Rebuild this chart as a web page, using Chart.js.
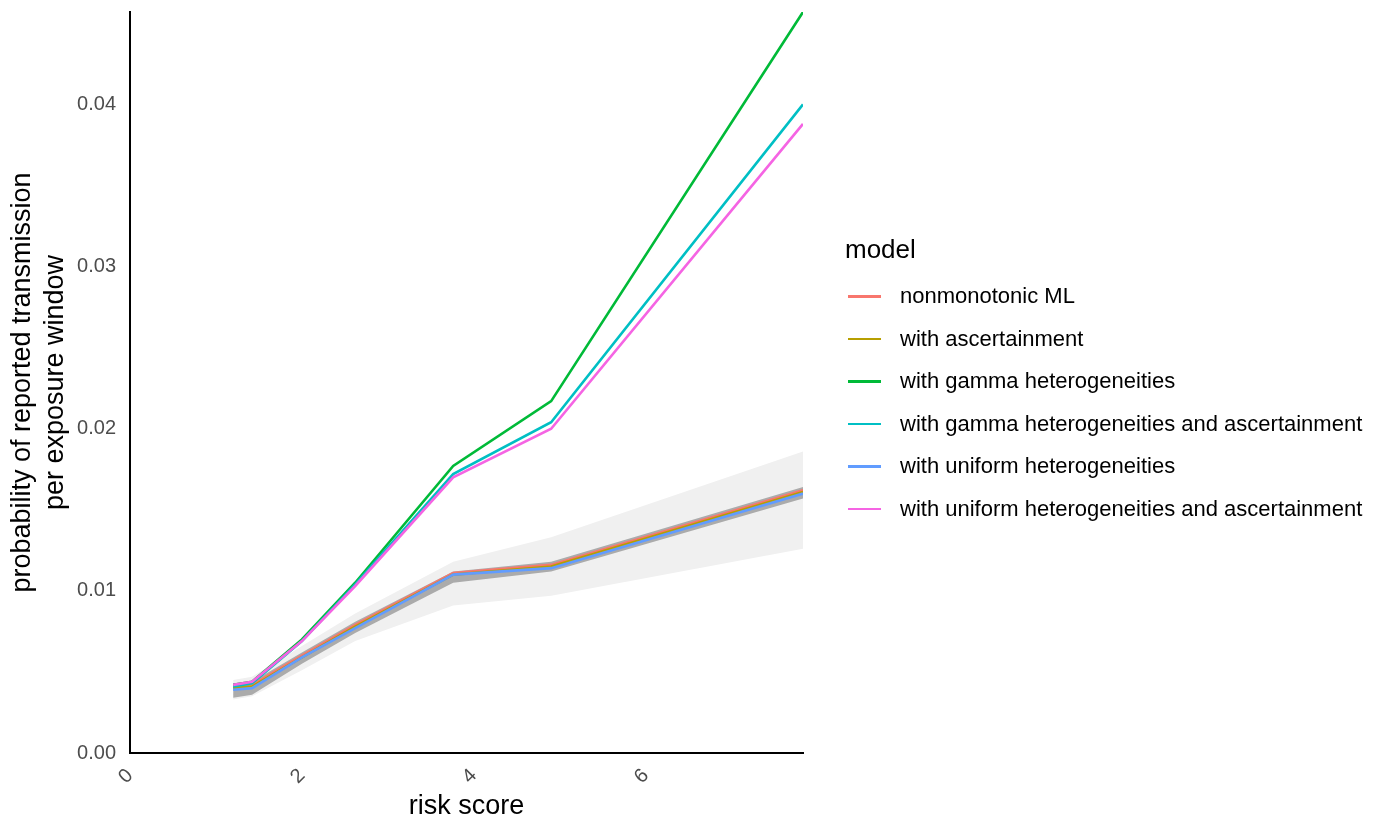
<!DOCTYPE html>
<html>
<head>
<meta charset="utf-8">
<script src="https://cdn.jsdelivr.net/npm/chart.js@4/dist/chart.umd.min.js"></script>
<style>
    html, body { margin: 0; padding: 0; background: #fff; }
    #wrap { position: relative; width: 1385px; height: 820px; font-family: "Liberation Sans", Arial, sans-serif; }
    #chart { position: absolute; left: 0; top: 0; }
    #legend { position: absolute; left: 845px; top: 234px; }
    #legend .title { font-size: 26px; color: #000; margin-bottom: 10px; }
    #legend .item { display: flex; align-items: center; height: 42.5px; font-size: 22px; color: #000; white-space: nowrap; }
    #legend .swatch { width: 33px; height: 2.5px; margin-left: 3px; margin-right: 19px; }
</style>
</head>
<body>
<div id="wrap">
    <canvas id="chart" width="1385" height="820"></canvas>
    <div id="legend"></div>
</div>
<script>
// Valores de risco (eixo x)
const riskScore = [1.2, 1.42, 2.0, 2.62, 3.76, 4.9, 7.83];

// Séries por modelo
const nonmonotonicML = [0.0041, 0.0042, 0.0060, 0.0079, 0.0111, 0.0116, 0.0162];
const withAscertainment = [0.0040, 0.0041, 0.0059, 0.0078, 0.0110, 0.0115, 0.0161];
const gammaHet = [0.0042, 0.0044, 0.0070, 0.0105, 0.0177, 0.0217, 0.0457];
const gammaHetAsc = [0.0041, 0.0043, 0.0069, 0.0104, 0.0172, 0.0204, 0.0400];
const uniformHet = [0.0039, 0.0040, 0.0059, 0.0077, 0.0110, 0.0114, 0.0160];
const uniformHetAsc = [0.0042, 0.0044, 0.0069, 0.0103, 0.0170, 0.0200, 0.0388];

// Faixas de incerteza
const wideLow = [0.0033, 0.0035, 0.0051, 0.0069, 0.0091, 0.0097, 0.0126];
const wideHigh = [0.0045, 0.0047, 0.0066, 0.0086, 0.0118, 0.0133, 0.0186];
const narrowLow = [0.0034, 0.0036, 0.0055, 0.0074, 0.0105, 0.0112, 0.0157];
const narrowHigh = [0.0043, 0.0044, 0.0062, 0.0081, 0.0112, 0.0118, 0.0164];

const modelNames = [
    'nonmonotonic ML',
    'with ascertainment',
    'with gamma heterogeneities',
    'with gamma heterogeneities and ascertainment',
    'with uniform heterogeneities',
    'with uniform heterogeneities and ascertainment'
];
const modelColors = ['#F8766D', '#B79F00', '#00BA38', '#00BFC4', '#619CFF', '#F564E3'];
const modelSeries = [nonmonotonicML, withAscertainment, gammaHet, gammaHetAsc, uniformHet, uniformHetAsc];

const xTicks = [0, 2, 4, 6];
const yTicks = [0, 0.01, 0.02, 0.03, 0.04];

function toPoints(values) {
    return values.map((v, i) => ({ x: riskScore[i], y: v }));
}

function bandDataset(values, color, fill, order) {
    return {
        data: toPoints(values),
        borderWidth: 0,
        pointRadius: 0,
        backgroundColor: color,
        fill: fill,
        order: order
    };
}

const datasets = [
    bandDataset(wideLow, 'rgba(0,0,0,0)', false, 40),
    bandDataset(wideHigh, '#f0f0f0', '-1', 39),
    bandDataset(narrowLow, 'rgba(0,0,0,0)', false, 38),
    bandDataset(narrowHigh, '#ababab', '-1', 37)
];

modelSeries.forEach((series, i) => {
    datasets.push({
        label: modelNames[i],
        data: toPoints(series),
        borderColor: modelColors[i],
        borderWidth: 2.6,
        pointRadius: 0,
        fill: false,
        tension: 0,
        order: 10 - i
    });
});

new Chart(document.getElementById('chart'), {
    type: 'line',
    data: { datasets },
    options: {
        responsive: false,
        animation: false,
        layout: { padding: { left: 4, right: 582, top: 12, bottom: 0 } },
        plugins: {
            legend: { display: false },
            tooltip: { enabled: false }
        },
        scales: {
            x: {
                type: 'linear',
                min: 0,
                max: 7.83,
                afterBuildTicks: axis => { axis.ticks = xTicks.map(v => ({ value: v })); },
                afterFit: axis => { axis.height = 67; },
                grid: { display: false, drawTicks: true, tickLength: 6, tickColor: '#222', drawOnChartArea: false },
                border: { display: true, color: '#000', width: 2 },
                ticks: {
                    color: '#4d4d4d',
                    font: { size: 20, family: 'Liberation Sans' },
                    minRotation: 45,
                    maxRotation: 45,
                    padding: 5,
                    callback: v => String(v)
                },
                title: {
                    display: true,
                    text: 'risk score',
                    color: '#000',
                    font: { size: 27, family: 'Liberation Sans' },
                    padding: { top: 0, bottom: -3 }
                }
            },
            y: {
                min: 0,
                max: 0.0457,
                afterBuildTicks: axis => { axis.ticks = yTicks.map(v => ({ value: v })); },
                afterFit: axis => {
                    axis.width = 126;
                    axis.paddingTop = 0;
                    axis.paddingBottom = 0;
                },
                grid: { display: false, drawTicks: true, tickLength: 6, tickColor: '#222', drawOnChartArea: false },
                border: { display: true, color: '#000', width: 2 },
                ticks: {
                    color: '#4d4d4d',
                    font: { size: 20, family: 'Liberation Sans' },
                    padding: 8,
                    callback: v => v.toFixed(2)
                },
                title: {
                    display: true,
                    text: ['probability of reported transmission', 'per exposure window'],
                    color: '#000',
                    font: { size: 27, family: 'Liberation Sans', lineHeight: 1.22 },
                    padding: { top: 2, bottom: 0 }
                }
            }
        }
    }
});

// Legenda em HTML
const legend = document.getElementById('legend');
legend.innerHTML = '<div class="title">model</div>' + modelNames.map((name, i) => `
    <div class="item">
        <span class="swatch" style="background:${modelColors[i]}"></span>
        <span>${name}</span>
    </div>
`).join('');
</script>
</body>
</html>
